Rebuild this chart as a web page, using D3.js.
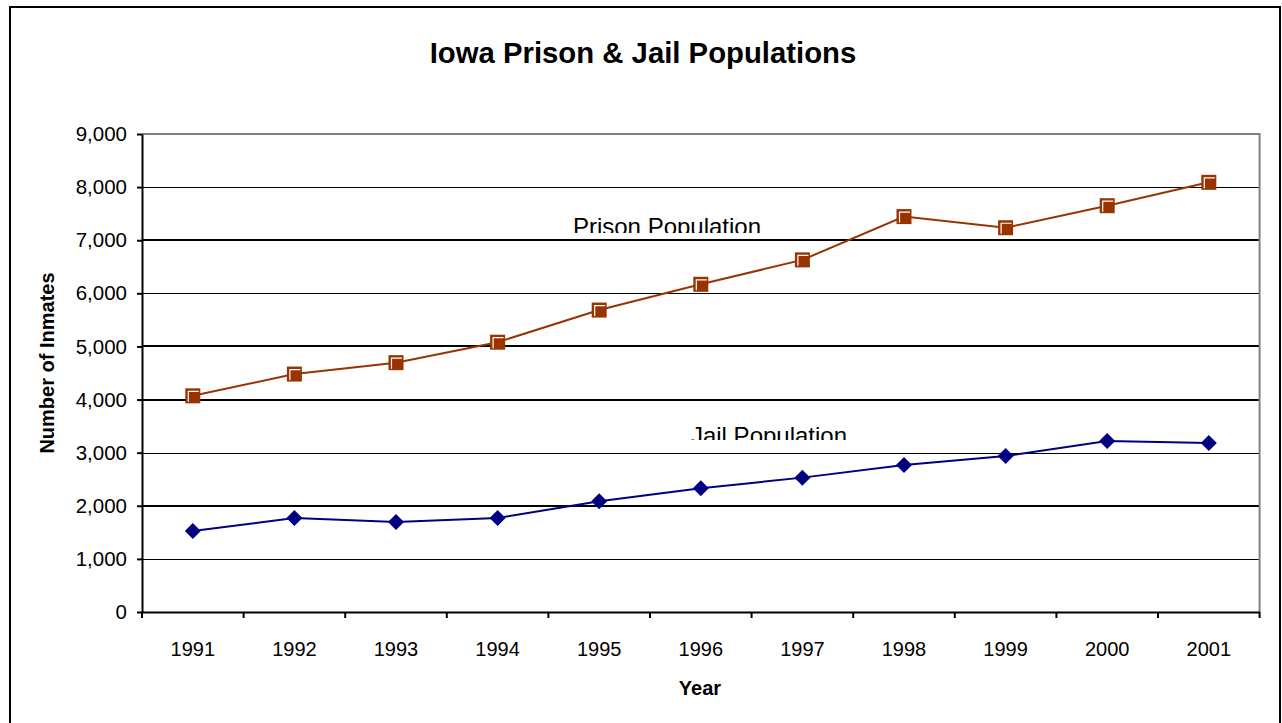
<!DOCTYPE html>
<html>
<head>
<meta charset="utf-8">
<script src="https://cdn.jsdelivr.net/npm/d3@7"></script>
<style>
  body { margin: 0; background: #fff; }
  svg { display: block; font-family: "Liberation Sans", Arial, sans-serif; }
</style>
</head>
<body>
<div id="chart"></div>
<script>
const years = [1991, 1992, 1993, 1994, 1995, 1996, 1997, 1998, 1999, 2000, 2001]
const prison = [4070, 4480, 4695, 5080, 5685, 6170, 6630, 7445, 7235, 7650, 8090]
const jail = [1525, 1770, 1695, 1770, 2085, 2330, 2530, 2768, 2937, 3220, 3182]
const yTicks = [0, 1000, 2000, 3000, 4000, 5000, 6000, 7000, 8000, 9000]

const width = 1282, height = 723
const plot = { left: 142, right: 1259.6, top: 134, bottom: 612 }

const svg = d3.select('#chart').append('svg')
    .attr('width', width)
    .attr('height', height)

// outer chart border
svg.append('rect')
    .attr('x', 10).attr('y', 7)
    .attr('width', 1270).attr('height', 740)
    .attr('fill', 'none')
    .attr('stroke', '#000')
    .attr('stroke-width', 2)

svg.append('text')
    .text('Iowa Prison & Jail Populations')
    .attr('x', 643).attr('y', 63)
    .attr('text-anchor', 'middle')
    .style('font-size', '29.3px')
    .style('font-weight', 'bold')

const x = d3.scaleBand()
    .domain(years)
    .range([plot.left, plot.right])

const y = d3.scaleLinear()
    .domain([0, 9000])
    .range([plot.bottom, plot.top])

// gridlines (Excel-ish rendering: some look heavier than others)
const heavy = [2000, 4000, 5000, 7000]
svg.append('g')
    .selectAll('line')
    .data(yTicks.filter(d => d > 0 && d < 9000))
    .enter()
    .append('line')
    .attr('x1', plot.left).attr('x2', plot.right)
    .attr('y1', d => heavy.includes(d) ? Math.round(y(d)) : Math.round(y(d)) + 0.5)
    .attr('y2', d => heavy.includes(d) ? Math.round(y(d)) : Math.round(y(d)) + 0.5)
    .attr('stroke', '#000')
    .attr('shape-rendering', 'crispEdges')
    .attr('stroke-width', d => heavy.includes(d) ? 2 : 1)

// plot area border top / right
svg.append('path')
    .attr('d', `M${plot.left},${y(9000)}H${plot.right}V${plot.bottom}`)
    .attr('fill', 'none')
    .attr('stroke', '#808080')
    .attr('stroke-width', 2)

// series labels (clipped at the bottom, as in the original)
const labels = [
    { text: 'Prison Population', cx: 667, base: 235, clip: 233 },
    { text: 'Jail Population', cx: 769, base: 444, clip: 440 }
]
labels.forEach((l, i) => {
    svg.append('clipPath')
        .attr('id', 'lab' + i)
        .append('rect')
        .attr('x', l.cx - 150).attr('y', l.clip - 40)
        .attr('width', 300).attr('height', 40)
    svg.append('text')
        .text(l.text)
        .attr('x', l.cx).attr('y', l.base)
        .attr('text-anchor', 'middle')
        .attr('clip-path', `url(#lab${i})`)
        .style('font-size', '24px')
})

// axes
const yAxis = d3.axisLeft(y)
    .tickValues(yTicks)
    .tickFormat(d3.format(','))
    .tickSize(5)
    .tickSizeOuter(0)

svg.append('g')
    .attr('transform', `translate(${plot.left}, 0)`)
    .call(yAxis)
    .call(g => g.select('.domain').attr('stroke-width', 2))
    .call(g => g.selectAll('.tick line').attr('stroke-width', 2))
    .call(g => g.selectAll('.tick text')
        .attr('x', -15)
        .style('font-size', '20.5px')
        .style('font-family', '"Liberation Sans", Arial, sans-serif')
        .attr('fill', '#000'))

const xAxis = d3.axisBottom(x).tickSize(0).tickSizeOuter(0)
svg.append('g')
    .attr('transform', `translate(0, ${plot.bottom})`)
    .call(xAxis)
    .call(g => g.select('.domain').attr('stroke-width', 2))
    .call(g => g.selectAll('.tick text')
        .attr('y', 29)
        .attr('dy', 0)
        .attr('transform', 'translate(0,15)')
        .style('font-size', '20px')
        .style('font-family', '"Liberation Sans", Arial, sans-serif')
        .attr('fill', '#000'))

// category boundary ticks
svg.append('g')
    .selectAll('line')
    .data(years.map(d => x(d)).concat([plot.right]))
    .enter()
    .append('line')
    .attr('x1', d => d).attr('x2', d => d)
    .attr('y1', plot.bottom).attr('y2', plot.bottom + 6)
    .attr('stroke', '#000')
    .attr('stroke-width', 2)

svg.append('text')
    .text('Year')
    .attr('x', 700).attr('y', 695)
    .attr('text-anchor', 'middle')
    .style('font-size', '20px')
    .style('font-weight', 'bold')

svg.append('text')
    .text('Number of Inmates')
    .attr('transform', 'translate(54, 363) rotate(-90)')
    .attr('text-anchor', 'middle')
    .style('font-size', '20px')
    .style('font-weight', 'bold')

const cx = d => x(d) + x.bandwidth() / 2
const line = d3.line().x(d => cx(d[0])).y(d => y(d[1]))

// prison series
const prisonPts = years.map((d, i) => [d, prison[i]])
svg.append('path')
    .datum(prisonPts)
    .attr('d', line)
    .attr('fill', 'none')
    .attr('stroke', '#993300')
    .attr('stroke-width', 2)

const sq = svg.append('g').selectAll('g')
    .data(prisonPts)
    .enter()
    .append('g')
    .attr('transform', d => `translate(${cx(d[0])}, ${y(d[1])})`)
sq.append('rect')
    .attr('x', -7.5).attr('y', -7.5)
    .attr('width', 15).attr('height', 15)
    .attr('fill', '#993300')
sq.append('path')
    .attr('d', 'M-4.5,6V-4.5H6')
    .attr('fill', 'none')
    .attr('stroke', '#fff')
    .attr('stroke-width', 1.2)

// jail series
const jailPts = years.map((d, i) => [d, jail[i]])
svg.append('path')
    .datum(jailPts)
    .attr('d', line)
    .attr('fill', 'none')
    .attr('stroke', '#000080')
    .attr('stroke-width', 2)

svg.append('g').selectAll('path')
    .data(jailPts)
    .enter()
    .append('path')
    .attr('d', 'M0,-8L8,0L0,8L-8,0Z')
    .attr('transform', d => `translate(${cx(d[0])}, ${y(d[1])})`)
    .attr('fill', '#000080')
</script>
</body>
</html>
